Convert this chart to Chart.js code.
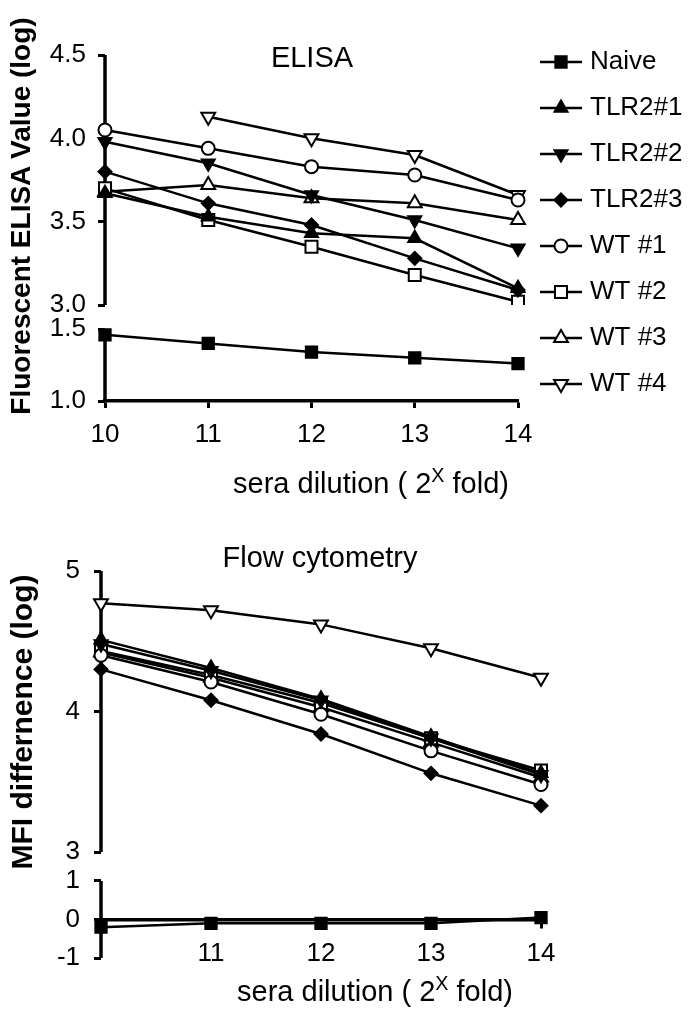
<!DOCTYPE html>
<html>
<head>
<meta charset="utf-8">
<script src="https://cdn.jsdelivr.net/npm/chart.js@4/dist/chart.umd.min.js"></script>
<style>
  body { margin: 0; background: #fff; }
  #page { position: relative; width: 698px; height: 1018px; overflow: hidden; font-family: "Liberation Sans", Arial, Helvetica, sans-serif; color: #000; }
  canvas { position: absolute; left: 0; }
  #cTop { top: 0; }
  #cBot { top: 510px; }
  .txt { position: absolute; white-space: nowrap; transform: translate(-50%, -50%); line-height: 1; }
  .ttl { font-size: 29px; }
  .ytl { font-size: 28px; font-weight: bold; transform: translate(-50%, -50%) rotate(-90deg); }
  .sup { font-size: 0.68em; position: relative; top: -0.55em; }
</style>
</head>
<body>
<div id="page">
  <canvas id="cTop" width="698" height="510"></canvas>
  <canvas id="cBot" width="698" height="508"></canvas>
  <div class="txt ttl" style="left:312px; top:57px;">ELISA</div>
  <div class="txt ttl" style="left:320px; top:557px;">Flow cytometry</div>
  <div class="txt ttl" style="left:371px; top:483px;">sera dilution ( 2<span class="sup">X</span> fold)</div>
  <div class="txt ttl" style="left:375px; top:991px;">sera dilution ( 2<span class="sup">X</span> fold)</div>
  <div class="txt ytl" style="left:21px; top:216px;">Fluorescent ELISA Value (log)</div>
  <div class="txt ytl" style="left:22px; top:722px; font-size:30px;">MFI differnence (log)</div>
</div>
<script>
// ======== DATA =========
const dilutions = ['10', '11', '12', '13', '14'];
const groups = ['Naive', 'TLR2#1', 'TLR2#2', 'TLR2#3', 'WT #1', 'WT #2', 'WT #3', 'WT #4'];

// ELISA (log)
const elisaNaive = [1.46, 1.40, 1.34, 1.30, 1.26];
const elisaTlr1 = [3.67, 3.53, 3.43, 3.40, 3.10];
const elisaTlr2 = [3.98, 3.85, 3.66, 3.51, 3.34];
const elisaTlr3 = [3.80, 3.61, 3.48, 3.28, 3.09];
const elisaWt1 = [4.05, 3.94, 3.83, 3.78, 3.63];
const elisaWt2 = [3.70, 3.51, 3.35, 3.18, 3.02];
const elisaWt3 = [3.68, 3.72, 3.64, 3.61, 3.51];
const elisaWt4 = [null, 4.13, 4.00, 3.90, 3.66];

// Flow cytometry, MFI difference (log)
const flowNaive = [-0.2, -0.1, -0.1, -0.1, 0.05];
const flowTlr1 = [4.51, 4.31, 4.09, 3.82, 3.56];
const flowTlr2 = [4.48, 4.29, 4.08, 3.81, 3.55];
const flowTlr3 = [4.30, 4.08, 3.84, 3.56, 3.33];
const flowWt1 = [4.40, 4.21, 3.98, 3.72, 3.48];
const flowWt2 = [4.43, 4.26, 4.06, 3.81, 3.58];
const flowWt3 = [4.42, 4.24, 4.03, 3.78, 3.53];
const flowWt4 = [4.77, 4.72, 4.62, 4.45, 4.24];

// tick labels for the broken axes
const elisaHiTicks = [3.0, 3.5, 4.0, 4.5];
const elisaLoTicks = [1.0, 1.5];
const flowHiTicks = [3, 4, 5];
const flowLoTicks = [-1, 0, 1];

// ======== STYLES =========
const FONT = '"Liberation Sans", Arial, Helvetica, sans-serif';
const markers = [
  { style: 'rect', rot: 0, r: 8, fill: '#000' },
  { style: 'triangle', rot: 0, r: 7.5, fill: '#000' },
  { style: 'triangle', rot: 180, r: 7.5, fill: '#000' },
  { style: 'rectRot', rot: 0, r: 6.5, fill: '#000' },
  { style: 'circle', rot: 0, r: 6.5, fill: '#fff' },
  { style: 'rect', rot: 0, r: 8.5, fill: '#fff' },
  { style: 'triangle', rot: 0, r: 8, fill: '#fff' },
  { style: 'triangle', rot: 180, r: 8, fill: '#fff' }
];

function makeSets(series, loAxis, hiAxis) {
  return series.map((vals, i) => ({
    label: groups[i],
    data: vals,
    yAxisID: i === 0 ? loAxis : hiAxis,
    borderColor: '#000',
    borderWidth: 2.5,
    pointStyle: markers[i].style,
    pointRotation: markers[i].rot,
    pointRadius: markers[i].r,
    pointBackgroundColor: markers[i].fill,
    pointBorderColor: '#000',
    pointBorderWidth: 2,
    tension: 0,
    spanGaps: false
  }));
}

// y axis lines drawn only over the tick range of each section (broken axis)
const brokenAxes = {
  id: 'brokenAxes',
  beforeDatasetsDraw(chart, args, opts) {
    const ctx = chart.ctx;
    ctx.save();
    ctx.strokeStyle = '#000';
    ctx.lineWidth = 3.5;
    opts.axes.forEach(a => {
      const s = chart.scales[a.id];
      ctx.beginPath();
      ctx.moveTo(s.right, s.getPixelForValue(a.from));
      ctx.lineTo(s.right, s.getPixelForValue(a.to));
      ctx.stroke();
    });
    ctx.restore();
  }
};

// legend: line with marker in the middle, label on the right
const lineLegend = {
  id: 'lineLegend',
  afterDraw(chart, args, opts) {
    if (!opts.show) return;
    const ctx = chart.ctx;
    ctx.save();
    ctx.font = opts.font;
    ctx.textBaseline = 'middle';
    chart.data.datasets.forEach((ds, i) => {
      const y = opts.top + i * opts.rowGap;
      ctx.strokeStyle = '#000';
      ctx.lineWidth = 2.5;
      ctx.beginPath();
      ctx.moveTo(opts.x, y);
      ctx.lineTo(opts.x + opts.lineLen, y);
      ctx.stroke();
      ctx.fillStyle = ds.pointBackgroundColor;
      ctx.lineWidth = ds.pointBorderWidth;
      Chart.helpers.drawPoint(ctx, {
        pointStyle: ds.pointStyle,
        rotation: ds.pointRotation,
        radius: ds.pointRadius,
        borderWidth: ds.pointBorderWidth
      }, opts.x + opts.lineLen / 2, y);
      ctx.fillStyle = '#000';
      ctx.fillText(ds.label, opts.x + opts.lineLen + opts.gap, y);
    });
    ctx.restore();
  }
};

function yAxis(stack, weight, min, max, ticks, digits, pad) {
  return {
    type: 'linear',
    position: 'left',
    stack: stack,
    stackWeight: weight,
    min: min,
    max: max,
    border: { display: false },
    grid: { drawOnChartArea: false, drawTicks: true, tickLength: 7, tickWidth: 3, color: '#000' },
    afterBuildTicks: s => { s.ticks = ticks.map(v => ({ value: v })); },
    afterFit: s => { s.width = 70; },
    ticks: {
      autoSkip: false,
      padding: pad,
      color: '#000',
      font: { family: FONT, size: 26 },
      callback: v => v.toFixed(digits)
    }
  };
}

// ======== ELISA =========
new Chart(document.getElementById('cTop'), {
  type: 'line',
  data: {
    labels: dilutions,
    datasets: makeSets([elisaNaive, elisaTlr1, elisaTlr2, elisaTlr3, elisaWt1, elisaWt2, elisaWt3, elisaWt4], 'yLo', 'yHi')
  },
  plugins: [brokenAxes, lineLegend],
  options: {
    responsive: false,
    animation: false,
    layout: { padding: { left: 35, right: 180, top: 55, bottom: 49 } },
    plugins: {
      legend: { display: false },
      tooltip: { enabled: false },
      brokenAxes: { axes: [{ id: 'yHi', from: 3.0, to: 4.5 }, { id: 'yLo', from: 1.0, to: 1.5 }] },
      lineLegend: { show: true, x: 540, lineLen: 42, gap: 8, top: 62, rowGap: 46, font: '26px ' + FONT }
    },
    scales: {
      x: {
        type: 'category',
        position: 'bottom',
        offset: false,
        border: { display: true, color: '#000', width: 3.5 },
        grid: { drawOnChartArea: false, drawTicks: true, tickLength: 7, tickWidth: 3, color: '#000' },
        afterFit: s => { s.height = 60; },
        ticks: { padding: 11, color: '#000', font: { family: FONT, size: 26 }, maxRotation: 0 }
      },
      yLo: yAxis('elisa', 96, 1.0, 1.667, elisaLoTicks, 1, 12),
      yHi: yAxis('elisa', 250, 3.0, 4.5, elisaHiTicks, 1, 12)
    }
  }
});

// ======== FLOW CYTOMETRY =========
new Chart(document.getElementById('cBot'), {
  type: 'line',
  data: {
    labels: dilutions,
    datasets: makeSets([flowNaive, flowTlr1, flowTlr2, flowTlr3, flowWt1, flowWt2, flowWt3, flowWt4], 'yLo', 'yHi')
  },
  plugins: [brokenAxes],
  options: {
    responsive: false,
    animation: false,
    layout: { padding: { left: 31, right: 157, top: 61, bottom: 60 } },
    plugins: {
      legend: { display: false },
      tooltip: { enabled: false },
      brokenAxes: { axes: [{ id: 'yHi', from: 3, to: 5 }, { id: 'yLo', from: -1, to: 1 }] }
    },
    scales: {
      x: {
        type: 'category',
        position: { yLo: 0 },
        offset: false,
        border: { display: true, color: '#000', width: 3.5 },
        grid: { drawOnChartArea: false, drawTicks: true, tickLength: 7, tickWidth: 3, color: '#000' },
        ticks: {
          padding: 12,
          color: '#000',
          font: { family: FONT, size: 26 },
          maxRotation: 0,
          callback: function (v, i) { return i === 0 ? '' : this.getLabelForValue(v); }
        }
      },
      yLo: yAxis('flow', 106, -1, 1.753, flowLoTicks, 0, 14),
      yHi: yAxis('flow', 281, 3, 5, flowHiTicks, 0, 14)
    }
  }
});
</script>
</body>
</html>
